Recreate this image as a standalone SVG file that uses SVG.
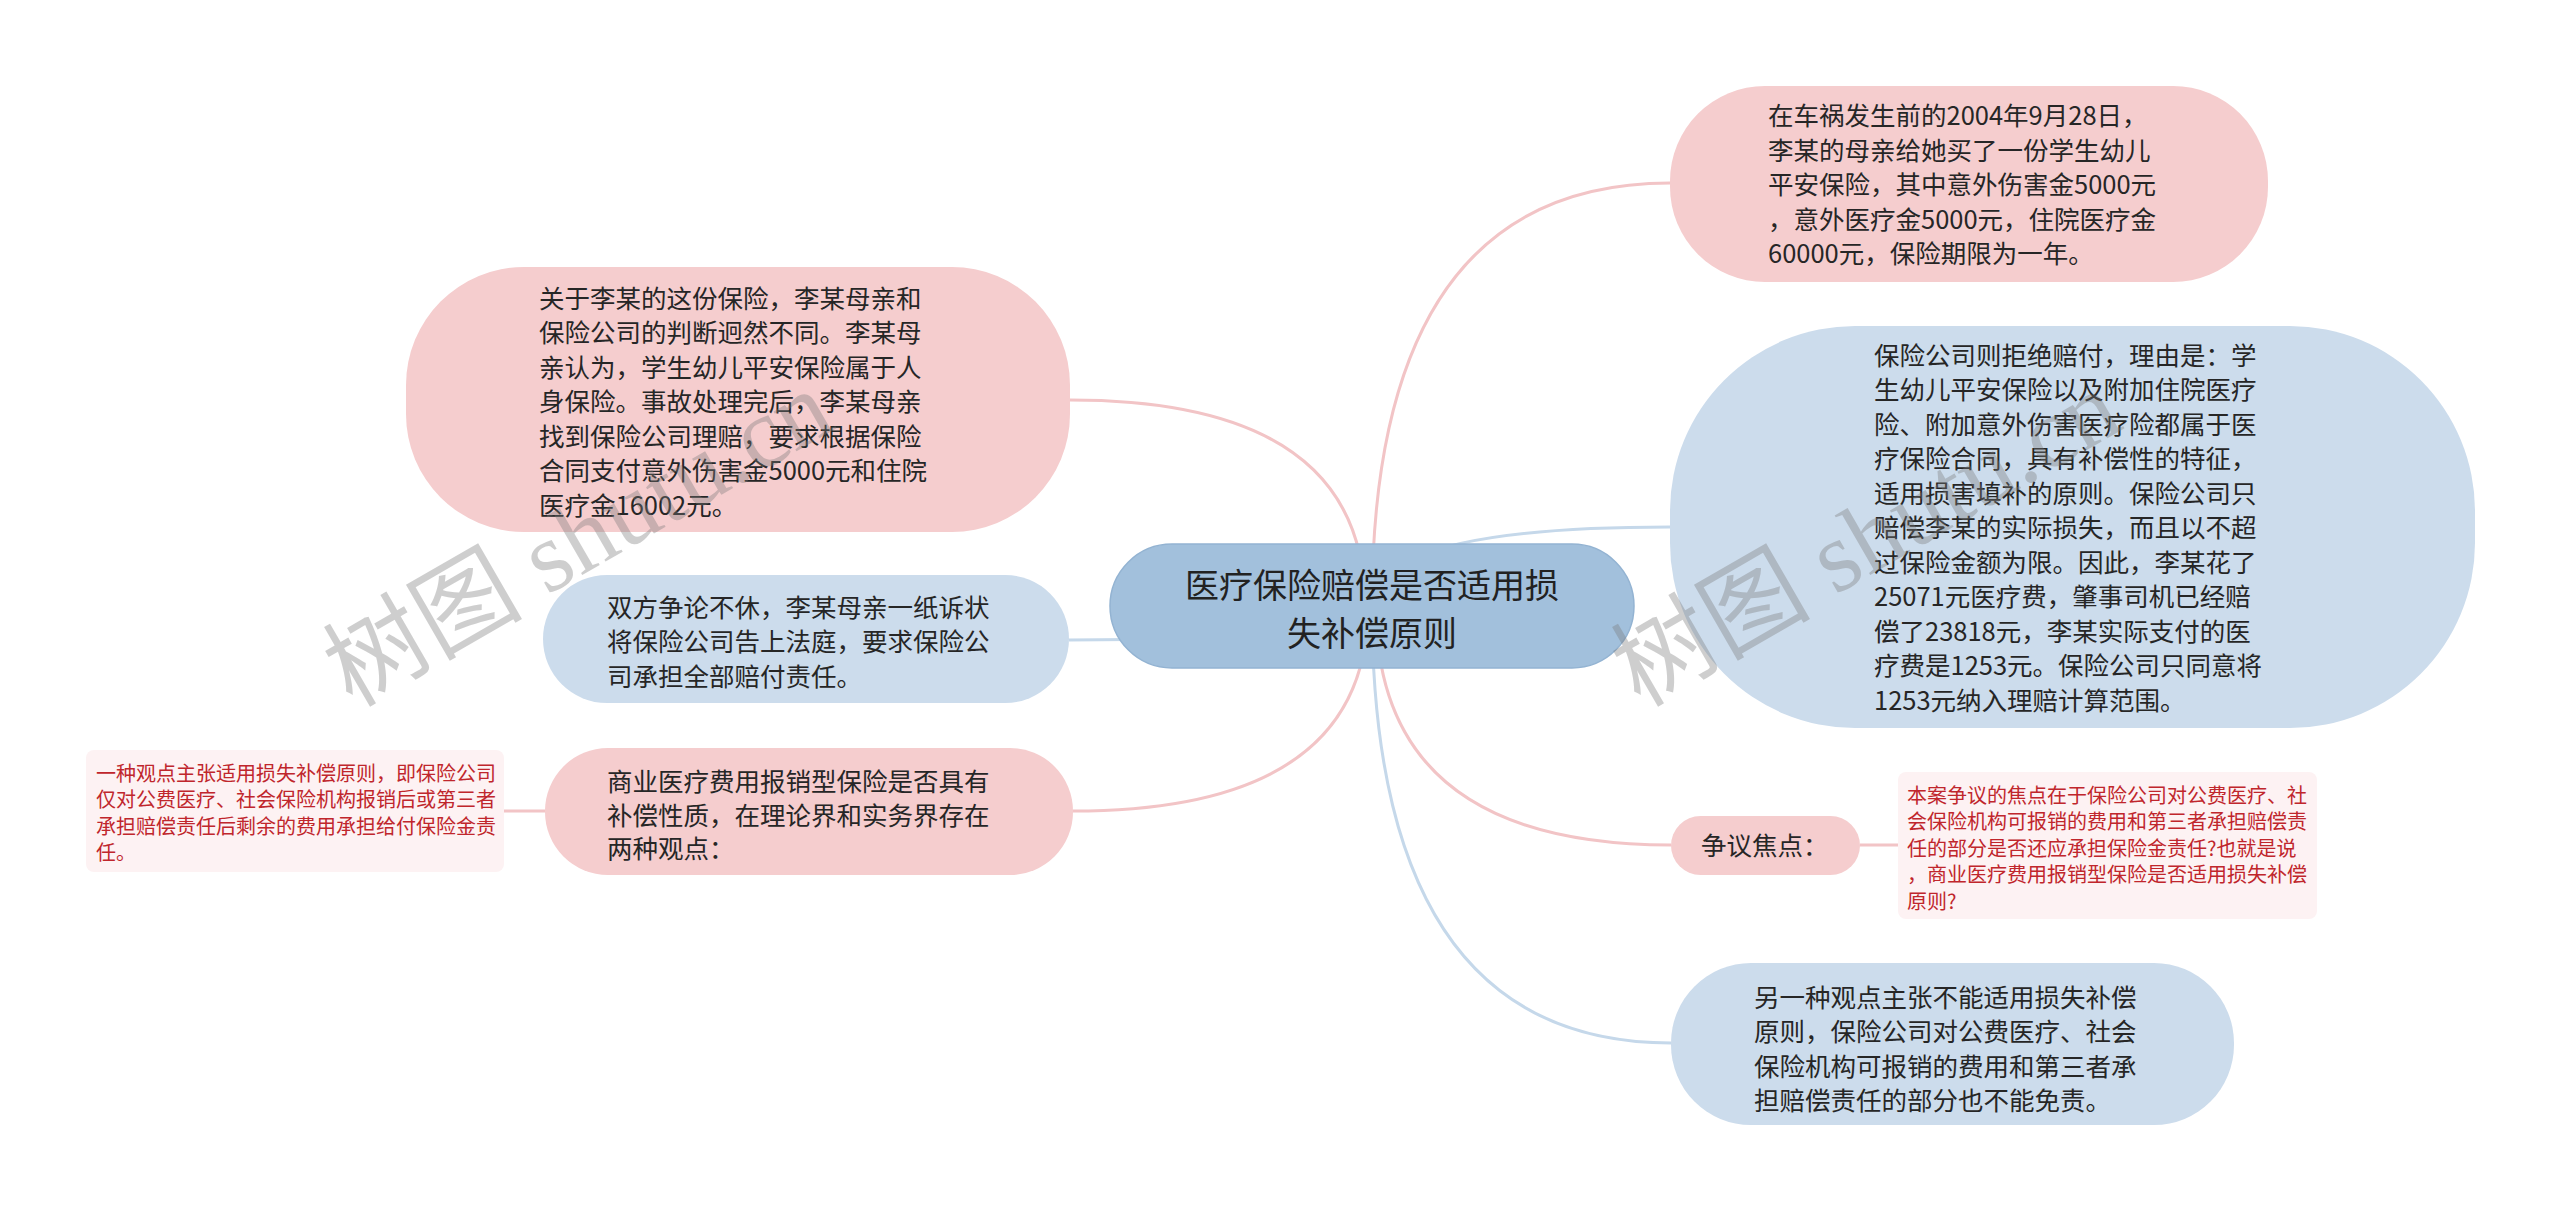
<svg xmlns="http://www.w3.org/2000/svg" width="2560" height="1211" viewBox="0 0 2560 1211">
<style>
.pk{fill:#f5cdce}
.bl{fill:#ccdcec}
.rt{fill:#a2c0dc;stroke:#93b3d2;stroke-width:1.5}
.nt{fill:#fdf2f3}
.t{font-family:"Noto Sans CJK SC","Noto Sans",sans-serif;font-size:25.5px;fill:#262626}
.tr{font-family:"Noto Sans CJK SC","Noto Sans",sans-serif;font-size:20px;fill:#c0262c}
.tc{font-family:"Noto Sans CJK SC","Noto Sans",sans-serif;font-size:34px;fill:#222;text-anchor:middle}
.cp{fill:none;stroke:#f2c4c6;stroke-width:3}
.cb{fill:none;stroke:#c5d8ea;stroke-width:3}
.wm{font-family:"Liberation Serif","Noto Sans CJK SC",serif;font-size:100px;fill:#7a7a7a;opacity:0.36}
</style>
<rect width="2560" height="1211" fill="#ffffff"/>
<g id="connectors">
<path class="cp" d="M1372,606 Q1372,183 1670,183"/>
<path class="cb" d="M1372,606 Q1372,527 1670,527"/>
<path class="cp" d="M1376,606 Q1376,845 1671,845"/>
<path class="cb" d="M1372,606 Q1372,1043 1671,1043"/>
<path class="cp" d="M1365,606 Q1365,400 1070,400"/>
<path class="cb" d="M1372,606 Q1372,640 1069,640"/>
<path class="cp" d="M1368,606 Q1368,811 1073,811"/>
<path class="cp" d="M1860,845 L1898,845"/>
<path class="cp" d="M504,811 L545,811"/>
</g>
<g id="root">
<rect class="rt" x="1110" y="544" width="524" height="124" rx="62"/>
<text class="tc"><tspan x="1372" y="598">医疗保险赔偿是否适用损</tspan><tspan x="1372" y="646">失补偿原则</tspan></text>
</g>
<g id="n-tr1">
<rect class="pk" x="1670" y="86" width="598" height="196" rx="95"/>
<text class="t"><tspan x="1768" y="125">在车祸发生前的2004年9月28日，</tspan><tspan x="1768" y="159.5">李某的母亲给她买了一份学生幼儿</tspan><tspan x="1768" y="194">平安保险，其中意外伤害金5000元</tspan><tspan x="1768" y="228.5">，意外医疗金5000元，住院医疗金</tspan><tspan x="1768" y="263">60000元，保险期限为一年。</tspan></text>
</g>
<g id="n-tr2">
<rect class="bl" x="1670" y="326" width="805" height="402" rx="185"/>
<text class="t"><tspan x="1874" y="364.5">保险公司则拒绝赔付，理由是：学</tspan><tspan x="1874" y="399">生幼儿平安保险以及附加住院医疗</tspan><tspan x="1874" y="433.5">险、附加意外伤害医疗险都属于医</tspan><tspan x="1874" y="468">疗保险合同，具有补偿性的特征，</tspan><tspan x="1874" y="502.5">适用损害填补的原则。保险公司只</tspan><tspan x="1874" y="537">赔偿李某的实际损失，而且以不超</tspan><tspan x="1874" y="571.5">过保险金额为限。因此，李某花了</tspan><tspan x="1874" y="606">25071元医疗费，肇事司机已经赔</tspan><tspan x="1874" y="640.5">偿了23818元，李某实际支付的医</tspan><tspan x="1874" y="675">疗费是1253元。保险公司只同意将</tspan><tspan x="1874" y="709.5">1253元纳入理赔计算范围。</tspan></text>
</g>
<g id="n-focus">
<rect class="pk" x="1671" y="816" width="189" height="59" rx="29.5"/>
<text class="t"><tspan x="1701" y="854.5">争议焦点：</tspan></text>
</g>
<g id="n-focus-note">
<rect class="nt" x="1898" y="772" width="419" height="147" rx="8"/>
<text class="tr"><tspan x="1907" y="802.5">本案争议的焦点在于保险公司对公费医疗、社</tspan><tspan x="1907" y="829">会保险机构可报销的费用和第三者承担赔偿责</tspan><tspan x="1907" y="855.5">任的部分是否还应承担保险金责任?也就是说</tspan><tspan x="1907" y="882">，商业医疗费用报销型保险是否适用损失补偿</tspan><tspan x="1907" y="908.5">原则?</tspan></text>
</g>
<g id="n-br">
<rect class="bl" x="1671" y="963" width="563" height="162" rx="80"/>
<text class="t"><tspan x="1754" y="1006.5">另一种观点主张不能适用损失补偿</tspan><tspan x="1754" y="1041">原则，保险公司对公费医疗、社会</tspan><tspan x="1754" y="1075.5">保险机构可报销的费用和第三者承</tspan><tspan x="1754" y="1110">担赔偿责任的部分也不能免责。</tspan></text>
</g>
<g id="n-lt">
<rect class="pk" x="406" y="267" width="664" height="265" rx="118"/>
<text class="t"><tspan x="539" y="307.5">关于李某的这份保险，李某母亲和</tspan><tspan x="539" y="342">保险公司的判断迥然不同。李某母</tspan><tspan x="539" y="376.5">亲认为，学生幼儿平安保险属于人</tspan><tspan x="539" y="411">身保险。事故处理完后，李某母亲</tspan><tspan x="539" y="445.5">找到保险公司理赔，要求根据保险</tspan><tspan x="539" y="480">合同支付意外伤害金5000元和住院</tspan><tspan x="539" y="514.5">医疗金16002元。</tspan></text>
</g>
<g id="n-lm">
<rect class="bl" x="543" y="575" width="526" height="128" rx="64"/>
<text class="t"><tspan x="607" y="616.5">双方争论不休，李某母亲一纸诉状</tspan><tspan x="607" y="651">将保险公司告上法庭，要求保险公</tspan><tspan x="607" y="685.5">司承担全部赔付责任。</tspan></text>
</g>
<g id="n-lb">
<rect class="pk" x="545" y="748" width="528" height="127" rx="63"/>
<text class="t"><tspan x="607" y="791">商业医疗费用报销型保险是否具有</tspan><tspan x="607" y="824.5">补偿性质，在理论界和实务界存在</tspan><tspan x="607" y="858">两种观点：</tspan></text>
</g>
<g id="n-lb-note">
<rect class="nt" x="86" y="750" width="418" height="122" rx="8"/>
<text class="tr"><tspan x="96" y="780.5">一种观点主张适用损失补偿原则，即保险公司</tspan><tspan x="96" y="807">仅对公费医疗、社会保险机构报销后或第三者</tspan><tspan x="96" y="833.5">承担赔偿责任后剩余的费用承担给付保险金责</tspan><tspan x="96" y="860">任。</tspan></text>
</g>
<g id="watermarks">
<text class="wm" transform="translate(352,708) rotate(-30)">树图 shutu.cn</text>
<text class="wm" transform="translate(1640,708) rotate(-30)">树图 shutu.cn</text>
</g>
</svg>
